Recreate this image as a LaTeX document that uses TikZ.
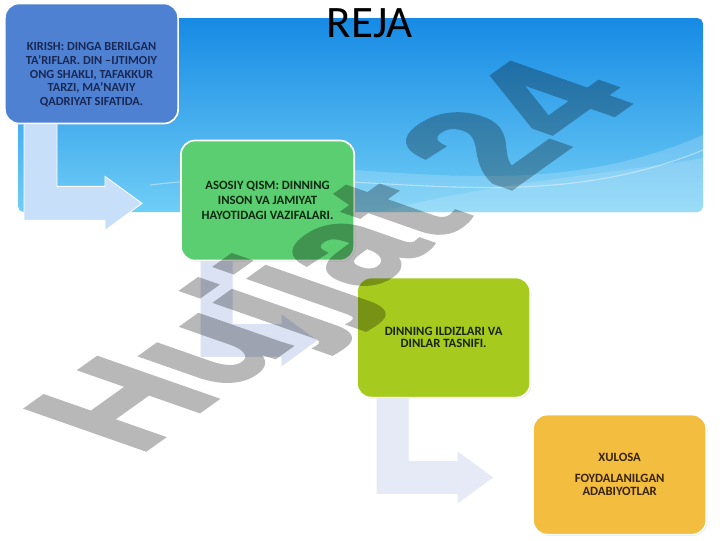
\documentclass[tikz,border=0pt]{standalone}
\usepackage{fontspec}
\setmainfont{Carlito}
\newfontfamily\wmfont[UprightFont={* Bold}, FakeBold=2.5]{Liberation Sans}
\usepackage{tikz}
\usetikzlibrary{positioning, shadows}

\definecolor{bannertop}{RGB}{22,138,228}
\definecolor{bannerbot}{RGB}{112,206,246}
\definecolor{kirishblue}{RGB}{79,129,210}
\definecolor{asosiygreen}{RGB}{90,206,112}
\definecolor{ildizlime}{RGB}{166,203,30}
\definecolor{xulosagold}{RGB}{243,189,63}
\definecolor{arrowA}{RGB}{200,223,249}
\definecolor{arrowB}{RGB}{218,226,244}
\definecolor{arrowC}{RGB}{230,234,246}

\pgfdeclarelayer{background}
\pgfdeclarelayer{arrows}
\pgfsetlayers{background,arrows,main}

\tikzstyle{planbox} = [rectangle, rounded corners=10pt, minimum width=4.33cm, minimum height=3cm, align=center, draw=white, line width=1.2pt, drop shadow={opacity=0.2, shadow xshift=0.8pt, shadow yshift=-0.8pt}]
\tikzstyle{bent} = [draw=white, line width=0.6pt]
\tikzstyle{watermark} = [font=\wmfont\fontsize{75}{75}\selectfont, text=black, xscale=2, rotate=55]

\begin{document}
\begin{tikzpicture}[x=0.025cm, y=-0.025cm, node distance=3.425cm and 4.4cm, on grid]

	\useasboundingbox (0,0) rectangle (720,540);

	% banner
	\begin{pgfonlayer}{background}
	\fill [white] (0,0) rectangle (720,540);
	\shade [top color=bannertop, bottom color=bannerbot, rounded corners=4pt] (18,18) rectangle (703,212);
	\begin{scope}
	\clip [rounded corners=4pt] (18,18) rectangle (703,212);
	\fill [white, opacity=0.18] (180,170) .. controls (350,150) and (520,215) .. (703,135) -- (703,212) -- (180,212) -- cycle;
	\fill [white, opacity=0.15] (380,212) .. controls (500,180) and (610,175) .. (703,158) -- (703,212) -- cycle;
	\draw [white, opacity=0.4, line width=0.8pt] (150,185) .. controls (350,160) and (520,225) .. (703,150);
	\end{scope}
	\end{pgfonlayer}

	\node (reja) [anchor=base, font=\fontsize{32}{32}\selectfont] at (370,37) {REJA};

	\node (kirish) [planbox, fill=kirishblue, text={rgb,255:red,25;green,40;blue,85}, font=\fontsize{8.8}{9.8}\selectfont\bfseries] at (91.5,63.5) {\mbox{}\\[12pt]KIRISH: DINGA BERILGAN\\TA’RIFLAR. DIN –IJTIMOIY\\ONG SHAKLI, TAFAKKUR\\TARZI, MA’NAVIY\\QADRIYAT SIFATIDA.};
	\node (asosiy) [planbox, fill=asosiygreen, text={rgb,255:red,12;green,40;blue,18}, font=\fontsize{9}{10.6}\selectfont\bfseries, below right=of kirish] {ASOSIY QISM: DINNING\\INSON VA JAMIYAT\\HAYOTIDAGI VAZIFALARI.};
	\node (ildiz) [planbox, fill=ildizlime, text={rgb,255:red,25;green,38;blue,5}, font=\fontsize{9}{8.9}\selectfont\bfseries, below right=of asosiy] {DINNING ILDIZLARI VA\\DINLAR TASNIFI.};
	\node (xulosa) [planbox, fill=xulosagold, text={rgb,255:red,55;green,35;blue,5}, font=\fontsize{9}{8.9}\selectfont\bfseries, below right=of ildiz] {XULOSA\\[6pt]FOYDALANILGAN\\ADABIYOTLAR};

	% bent arrows
	\begin{pgfonlayer}{arrows}
	\draw [bent, fill=arrowA] (kirish.south west) ++(20,-2) -- ++(33,0) -- ++(0,64) -- ++(48,0) -- ++(0,-10) -- ++(37,27) -- ++(-37,27) -- ++(0,-10) -- ++(-81,0) -- cycle;
	\draw [bent, fill=arrowB] (asosiy.south west) ++(20,-2) -- ++(33,0) -- ++(0,64) -- ++(48,0) -- ++(0,-10) -- ++(37,27) -- ++(-37,27) -- ++(0,-10) -- ++(-81,0) -- cycle;
	\draw [bent, fill=arrowC] (ildiz.south west) ++(20,-2) -- ++(33,0) -- ++(0,64) -- ++(48,0) -- ++(0,-10) -- ++(37,27) -- ++(-37,27) -- ++(0,-10) -- ++(-81,0) -- cycle;
	\end{pgfonlayer}

	\begin{scope}[transparency group, opacity=0.28]
	\node (wm) [watermark] at (345,260) {Hujjat 24};
	\end{scope}

\end{tikzpicture}
\end{document}
